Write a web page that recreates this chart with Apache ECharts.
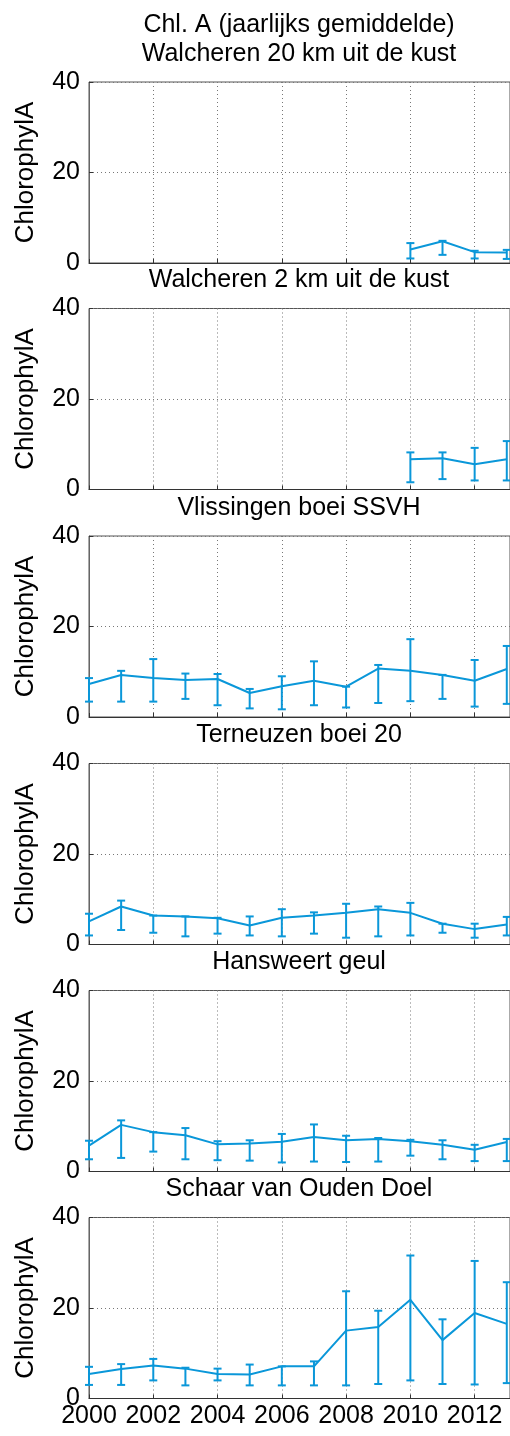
<!DOCTYPE html>
<html>
<head>
<meta charset="utf-8">
<script src="https://cdn.jsdelivr.net/npm/echarts@6/dist/echarts.min.js"></script>
<style>
  html, body { margin: 0; padding: 0; background: #fff; }
  #chart { width: 510px; height: 1436px; }
</style>
</head>
<body>
<div id="chart"></div>
<script>
// jaren
var years = [2000, 2001, 2002, 2003, 2004, 2005, 2006, 2007, 2008, 2009, 2010, 2011, 2012, 2013];
var xTicks = [2000, 2002, 2004, 2006, 2008, 2010, 2012];
var yTicks = [0, 20, 40];

var stations = ["Walcheren 20 km uit de kust", "Walcheren 2 km uit de kust", "Vlissingen boei SSVH",
  "Terneuzen boei 20", "Hansweert geul", "Schaar van Ouden Doel"];

// gemiddelde, onder- en bovengrens per station
var walch20Mean = [null, null, null, null, null, null, null, null, null, null, 3.0, 4.8, 2.4, 2.3];
var walch20Lo   = [null, null, null, null, null, null, null, null, null, null, 1.0, 1.8, 1.0, 0.9];
var walch20Hi   = [null, null, null, null, null, null, null, null, null, null, 4.4, 4.9, 2.7, 2.9];

var walch2Mean = [null, null, null, null, null, null, null, null, null, null, 6.7, 6.9, 5.6, 6.7];
var walch2Lo   = [null, null, null, null, null, null, null, null, null, null, 1.6, 2.3, 2.0, 2.0];
var walch2Hi   = [null, null, null, null, null, null, null, null, null, null, 8.2, 8.2, 9.2, 10.7];

var vlisMean = [7.3, 9.3, 8.6, 8.2, 8.4, 5.3, 6.8, 8.0, 6.7, 10.7, 10.2, 9.3, 8.0, 10.6];
var vlisLo   = [3.4, 3.4, 3.4, 4.0, 2.6, 1.9, 1.7, 2.6, 2.1, 3.1, 3.5, 4.0, 2.3, 2.9];
var vlisHi   = [8.6, 10.2, 12.8, 9.6, 9.5, 6.2, 9.0, 12.3, 6.7, 11.5, 17.2, 9.3, 12.6, 15.7];

var ternMean = [5.1, 8.4, 6.4, 6.2, 5.8, 4.2, 5.9, 6.4, 7.0, 7.8, 7.0, 4.6, 3.4, 4.4];
var ternLo   = [2.0, 3.2, 2.6, 1.8, 2.4, 2.0, 1.8, 2.4, 1.5, 1.8, 2.0, 2.6, 1.5, 2.0];
var ternHi   = [6.8, 9.7, 6.4, 6.2, 5.9, 6.2, 7.8, 7.1, 9.0, 8.4, 9.2, 4.6, 4.6, 6.1];

var hansMean = [5.7, 10.3, 8.7, 8.0, 6.0, 6.2, 6.6, 7.6, 6.9, 7.2, 6.7, 5.9, 4.8, 6.5];
var hansLo   = [2.7, 3.0, 4.4, 2.7, 2.5, 2.4, 2.0, 2.2, 2.1, 2.2, 3.5, 2.7, 2.3, 2.3];
var hansHi   = [6.8, 11.3, 8.7, 9.6, 6.7, 6.9, 8.3, 10.4, 7.9, 7.4, 7.0, 6.9, 5.9, 7.2];

var schaarMean = [5.4, 6.5, 7.3, 6.6, 5.4, 5.3, 7.1, 7.1, 15.0, 15.8, 21.8, 12.9, 18.9, 16.5];
var schaarLo   = [3.0, 3.0, 4.0, 2.9, 4.0, 2.9, 2.9, 2.9, 2.9, 3.2, 4.0, 3.2, 3.1, 3.4];
var schaarHi   = [7.0, 7.6, 8.75, 6.8, 6.6, 7.5, 7.1, 8.2, 23.7, 19.4, 31.6, 17.5, 30.4, 25.7];

var means = [walch20Mean, walch2Mean, vlisMean, ternMean, hansMean, schaarMean];
var lows = [walch20Lo, walch2Lo, vlisLo, ternLo, hansLo, schaarLo];
var highs = [walch20Hi, walch2Hi, vlisHi, ternHi, hansHi, schaarHi];

var blue = "#0a97d9";
var font = "'Liberation Sans', Arial, sans-serif";
var gridTops = [82, 308.5, 536, 763.5, 990.5, 1217.5];
var gridH = 181;

var chart = echarts.init(document.getElementById("chart"));

var grids = [], xAxes = [], yAxes = [], series = [], texts = [];

texts.push({
  type: "text",
  x: 299, y: 25,
  style: { text: "Chl. A (jaarlijks gemiddelde)", font: "25px " + font, fill: "#000", textAlign: "center", textVerticalAlign: "middle" }
});

for (var i = 0; i < 6; i++) {
  grids.push({ left: 89, top: gridTops[i], width: 421, height: gridH, show: true, borderColor: "#555", borderWidth: 1 });

  texts.push({
    type: "text",
    x: 299, y: gridTops[i] - 28,
    style: { text: stations[i], font: "25px " + font, fill: "#000", textAlign: "center", textVerticalAlign: "middle" }
  });

  xAxes.push({
    gridIndex: i, type: "value", min: years[0], max: 2013.1, interval: 2,
    axisLine: { show: true, onZero: false, lineStyle: { color: "#333", width: 1 } },
    axisTick: { show: true, inside: true, length: 4, lineStyle: { color: "#333" } },
    axisLabel: {
      show: i === 5, fontSize: 25, fontFamily: font, color: "#000", margin: 5,
      customValues: xTicks, formatter: function (v) { return String(v); }
    },
    splitLine: { show: true, lineStyle: { color: "#777", type: [1, 3], width: 1 } }
  });

  yAxes.push({
    gridIndex: i, type: "value", min: 0, max: 40, interval: 20,
    name: "ChlorophylA", nameLocation: "middle", nameGap: 50,
    nameTextStyle: { fontSize: 26, fontFamily: font, color: "#000" },
    axisLine: { show: true, lineStyle: { color: "#666", width: 1 } },
    axisTick: { show: true, inside: true, length: 4, lineStyle: { color: "#333" } },
    axisLabel: { fontSize: 25, fontFamily: font, color: "#000", margin: 9 },
    splitLine: { show: true, lineStyle: { color: "#777", type: [1, 3], width: 1 } }
  });

  var lineData = [], barData = [];
  for (var j = 0; j < years.length; j++) {
    lineData.push([years[j], means[i][j]]);
    if (means[i][j] != null) barData.push([years[j], lows[i][j], highs[i][j]]);
  }

  series.push({
    type: "line", xAxisIndex: i, yAxisIndex: i, data: lineData,
    symbol: "none", connectNulls: false, silent: true,
    lineStyle: { color: blue, width: 2 }
  });

  series.push({
    type: "custom", xAxisIndex: i, yAxisIndex: i, data: barData, silent: true,
    encode: { x: 0, y: [1, 2] },
    renderItem: function (params, api) {
      var lo = api.coord([api.value(0), api.value(1)]);
      var hi = api.coord([api.value(0), api.value(2)]);
      var w = 4;
      var st = { stroke: blue, lineWidth: 2 };
      return {
        type: "group",
        children: [
          { type: "line", shape: { x1: lo[0], y1: lo[1], x2: hi[0], y2: hi[1] }, style: st },
          { type: "line", shape: { x1: lo[0] - w, y1: lo[1], x2: lo[0] + w, y2: lo[1] }, style: st },
          { type: "line", shape: { x1: hi[0] - w, y1: hi[1], x2: hi[0] + w, y2: hi[1] }, style: st }
        ]
      };
    }
  });
}

var option = {
  animation: false,
  backgroundColor: "#fff",
  grid: grids,
  xAxis: xAxes,
  yAxis: yAxes,
  series: series,
  graphic: texts
};

chart.setOption(option);
</script>
</body>
</html>
